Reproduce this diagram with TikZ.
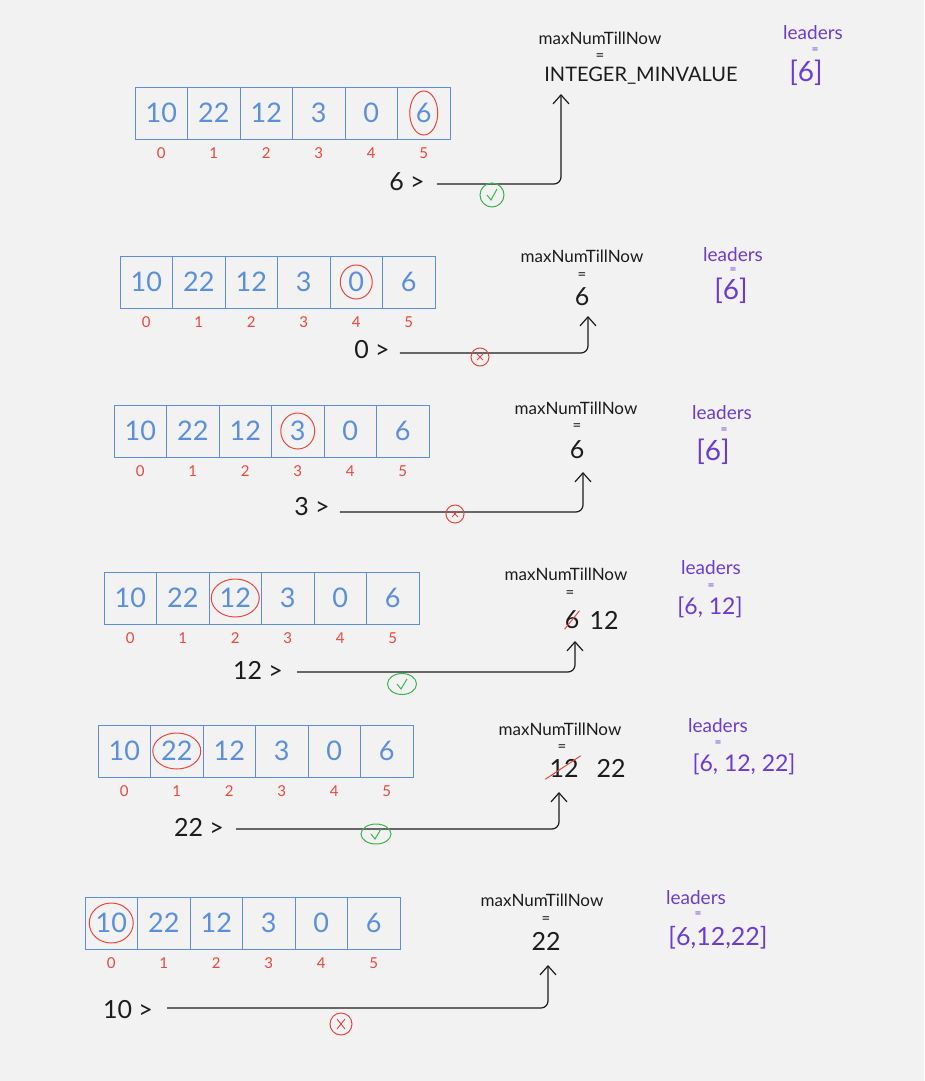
\documentclass[tikz,border=0pt]{standalone}
\usepackage{fontspec}
\setmainfont{Lato}
\usetikzlibrary{arrows.meta,shapes.geometric}
\definecolor{bgc}{HTML}{F2F2F2}
\definecolor{cblue}{HTML}{5B8FDB}
\definecolor{cred}{HTML}{E5483E}
\definecolor{cgreen}{HTML}{39B54A}
\definecolor{cpurple}{HTML}{6C3CD0}
\definecolor{cink}{HTML}{1C1C1C}
\newcommand{\fs}[1]{\fontsize{#1}{#1}\selectfont}
\begin{document}
\begin{tikzpicture}[x=1pt,y=-1pt,
  cell/.style={draw=cblue,line width=1pt,minimum width=52.5pt,minimum height=52pt,inner sep=0pt,text=cblue,font=\fs{27}},
  idx/.style={text=cred,font=\fs{15},inner sep=0pt},
  gtl/.style={text=cink,font=\fs{25},inner sep=0pt},
  mxl/.style={text=cink,font=\fs{17},inner sep=0pt},
  eql/.style={text=cink,font=\fs{15},inner sep=0pt},
  vall/.style={text=cink,font=\fs{25},inner sep=0pt},
  ldl/.style={text=cpurple,font=\fs{19},inner sep=0pt},
  leql/.style={text=cpurple,font=\fs{12},inner sep=0pt},
  lvl/.style={text=cpurple,font=\fs{23},inner sep=0pt},
  hl/.style={draw=cred,line width=1pt},
  strike/.style={draw=cred,line width=1pt},
  arr/.style={draw=cink,line width=1.2pt,rounded corners=7pt,-{Straight Barb[length=9pt,width=16pt,line width=1.2pt]}},
  okmark/.style={circle,draw=cgreen,line width=1pt,inner sep=0pt},
  nomark/.style={circle,draw=cred,line width=1pt,inner sep=0pt},
  okpath/.style={draw=cgreen,line width=1pt},
  nopath/.style={draw=cred,line width=0.9pt}
]
\fill[bgc] (0,0) rectangle (924,1081);
\useasboundingbox (0,0) rectangle (924,1081);

% arrays
\foreach \r/\ax/\ay in {1/135/87, 2/120/256, 3/114/405, 4/104/572, 5/98/725, 6/85/897}{
  \foreach \i/\v in {0/10,1/22,2/12,3/3,4/0,5/6}{
    \node[cell] (c\r-\i) at (\ax+26.25+52.5*\i,\ay+26) {\v};
    \node[idx,yshift=-14pt] (i\r-\i) at (c\r-\i.south) {\i};
  }
}

% highlighted elements
\draw[hl] (c1-5.center) ellipse [x radius=14pt, y radius=22pt];
\draw[hl] (c2-4.center) ellipse [x radius=16pt, y radius=17pt];
\draw[hl] (c3-3.center) ellipse [x radius=17pt, y radius=18pt];
\draw[hl] (c4-2.center) ellipse [x radius=24pt, y radius=19pt];
\draw[hl] (c5-1.center) ellipse [x radius=24pt, y radius=18pt];
\draw[hl] (c6-0.center) ellipse [x radius=22pt, y radius=20pt];

% comparison labels
\node[gtl] (g1) at (407,182) {6 >};
\node[gtl] (g2) at (372,350) {0 >};
\node[gtl] (g3) at (312,507) {3 >};
\node[gtl] (g4) at (258,670) {12 >};
\node[gtl] (g5) at (199,827) {22 >};
\node[gtl] (g6) at (128,1010) {10 >};

% maxNumTillNow
\node[mxl] (mx1) at (600,38) {maxNumTillNow};
\node[eql] (eq1) at (600,57) {=};
\node[vall,font=\fs{20}] (v1) at (641,76) {INTEGER\_MINVALUE};
\node[mxl] (mx2) at (582,256) {maxNumTillNow};
\node[eql] (eq2) at (582,276) {=};
\node[vall] (v2) at (582,297) {6};
\node[mxl] (mx3) at (576,408) {maxNumTillNow};
\node[eql] (eq3) at (577,427) {=};
\node[vall] (v3) at (577,450) {6};
\node[mxl] (mx4) at (566,574) {maxNumTillNow};
\node[eql] (eq4) at (570,594) {=};
\node[vall] (v4) at (572,620) {6};
\node[vall] (w4) at (604,620) {12};
\node[mxl] (mx5) at (560,729) {maxNumTillNow};
\node[eql] (eq5) at (562,748) {=};
\node[vall] (v5) at (564,768) {12};
\node[vall] (w5) at (611,768) {22};
\node[mxl] (mx6) at (542,900) {maxNumTillNow};
\node[eql] (eq6) at (546,920) {=};
\node[vall] (v6) at (546,941) {22};

\draw[strike] (v4.south west) -- (v4.north east);
\draw[strike] ([xshift=-4pt,yshift=-2pt]v5.south west) -- ([xshift=2pt,yshift=3pt]v5.north east);

% leaders
\node[ldl] (ld1) at (813,33) {leaders};
\node[leql] (lq1) at (815,51) {=};
\node[lvl,font=\fs{28}] (lv1) at (806,73) {[6]};
\node[ldl] (ld2) at (733,255) {leaders};
\node[leql] (lq2) at (733,271) {=};
\node[lvl,font=\fs{28}] (lv2) at (731,291) {[6]};
\node[ldl] (ld3) at (722,413) {leaders};
\node[leql] (lq3) at (724,431) {=};
\node[lvl,font=\fs{28}] (lv3) at (713,452) {[6]};
\node[ldl] (ld4) at (711,568) {leaders};
\node[leql] (lq4) at (711,587) {=};
\node[lvl] (lv4) at (710,607) {[6, 12]};
\node[ldl] (ld5) at (718,726) {leaders};
\node[leql] (lq5) at (718,744) {=};
\node[lvl] (lv5) at (744,764) {[6, 12, 22]};
\node[ldl] (ld6) at (696,898) {leaders};
\node[leql] (lq6) at (698,915) {=};
\node[lvl,font=\fs{25}] (lv6) at (718,938) {[6,12,22]};

% arrow targets
\coordinate (t1) at (561,94);
\coordinate (t2) at (588,316);
\coordinate (t3) at (583,472);
\coordinate (t4) at (575,641);
\coordinate (t5) at (559,792);
\coordinate (t6) at (548,965);

\draw[arr] ([xshift=12pt,yshift=-2pt]g1.east) -| (t1);
\draw[arr] ([xshift=10pt,yshift=-3pt]g2.east) -| (t2);
\draw[arr] ([xshift=10pt,yshift=-5pt]g3.east) -| (t3);
\draw[arr] ([xshift=14pt,yshift=-2pt]g4.east) -| (t4);
\draw[arr] ([xshift=12pt,yshift=-2pt]g5.east) -| (t5);
\draw[arr] ([xshift=14pt,yshift=2pt]g6.east) -| (t6);

% marks
\node[okmark,minimum size=24pt] (m1) at (492,195) {};
\draw[okpath] ([shift={(-5,0)}]m1.center) -- ++(4,5) -- ++(6,-11);
\node[nomark,minimum size=18pt] (m2) at (480,357) {};
\draw[nopath] ([shift={(-3,-3)}]m2.center) -- ++(6,6) ([shift={(3,-3)}]m2.center) -- ++(-6,6);
\node[nomark,minimum size=18pt] (m3) at (455,514) {};
\draw[nopath] ([shift={(-3,-3)}]m3.center) -- ++(6,6) ([shift={(3,-3)}]m3.center) -- ++(-6,6);
\node[okmark,ellipse,minimum width=29pt,minimum height=21pt] (m4) at (402,684) {};
\draw[okpath] ([shift={(-5,0)}]m4.center) -- ++(4,5) -- ++(6,-10);
\node[okmark,ellipse,minimum width=30pt,minimum height=20pt] (m5) at (376,834) {};
\draw[okpath] ([shift={(-5,0)}]m5.center) -- ++(4,5) -- ++(6,-10);
\node[nomark,minimum size=22pt] (m6) at (341,1024) {};
\draw[nopath] ([shift={(-4,-5)}]m6.center) -- ++(8,10) ([shift={(4,-5)}]m6.center) -- ++(-8,10);
\end{tikzpicture}
\end{document}
